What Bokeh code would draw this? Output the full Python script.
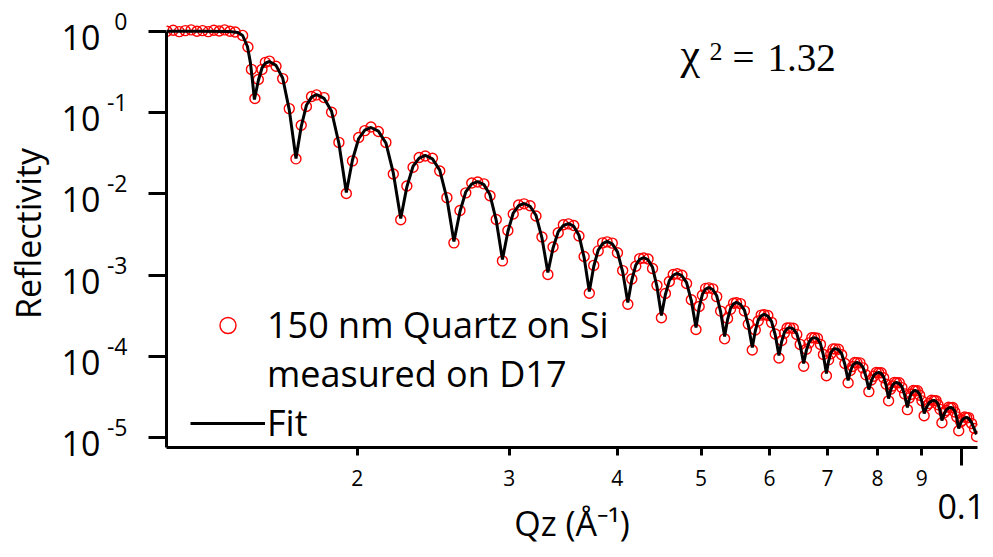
from bokeh.plotting import figure
from bokeh.models import (Range1d, FixedTicker, LogAxis, LogScale, Label, Legend,
                          LegendItem, ColumnDataSource)
from bokeh.embed import file_html
from bokeh.resources import INLINE

# ---------------- data ----------------
# measured reflectivity, plateau below the critical edge
q_plateau_meas = [0.01205, 0.01225, 0.01245, 0.01265, 0.01285, 0.01305, 0.01325,
                  0.01345, 0.01365, 0.01385, 0.01405, 0.01425, 0.01445]
r_plateau_meas = [1.00, 1.03, 0.99, 1.02, 1.04, 1.00, 1.02, 0.99, 1.03, 1.01, 1.04, 1.00, 0.98]
q_edge_meas = [0.01474, 0.01495, 0.01509, 0.01523]
r_edge_meas = [0.89, 0.64, 0.34, 0.149]

# fit, plateau + critical edge
q_plateau_fit = [0.01204, 0.01316, 0.01424]
r_plateau_fit = [1.0, 1.0, 0.995]
q_edge_fit = [0.01455, 0.01474, 0.01493, 0.01505, 0.01513, 0.01521]
r_edge_fit = [0.967, 0.888, 0.650, 0.409, 0.248, 0.145]

# Kiessig fringes (shared Q grid for fit and measurement)
q_fringe = [
    0.01537, 0.01552, 0.01566, 0.01583, 0.01611, 0.01640, 0.01669, 0.01699,
    0.01723, 0.01747, 0.01771, 0.01795, 0.01831, 0.01868, 0.01905, 0.01943,
    0.01975, 0.02008, 0.02041, 0.02075, 0.02116, 0.02159, 0.02202, 0.02246,
    0.02283, 0.02321, 0.02359, 0.02398, 0.02444, 0.02492, 0.02540, 0.02588,
    0.02630, 0.02671, 0.02714, 0.02757, 0.02803, 0.02849, 0.02897, 0.02945,
    0.02988, 0.03031, 0.03075, 0.03120, 0.03170, 0.03220, 0.03272, 0.03324,
    0.03370, 0.03417, 0.03464, 0.03512, 0.03561, 0.03611, 0.03661, 0.03712,
    0.03756, 0.03801, 0.03846, 0.03892, 0.03946, 0.04001, 0.04057, 0.04113,
    0.04157, 0.04201, 0.04245, 0.04290, 0.04341, 0.04393, 0.04445, 0.04498,
    0.04546, 0.04594, 0.04642, 0.04692, 0.04751, 0.04810, 0.04871, 0.04932,
    0.04974, 0.05017, 0.05060, 0.05104, 0.05158, 0.05212, 0.05267, 0.05323,
    0.05365, 0.05408, 0.05451, 0.05494, 0.05552, 0.05611, 0.05670, 0.05730,
    0.05776, 0.05821, 0.05868, 0.05914, 0.05973, 0.06032, 0.06092, 0.06152,
    0.06197, 0.06242, 0.06287, 0.06333, 0.06392, 0.06451, 0.06510, 0.06571,
    0.06618, 0.06666, 0.06715, 0.06764, 0.06817, 0.06871, 0.06926, 0.06981,
    0.07022, 0.07064, 0.07106, 0.07148, 0.07209, 0.07271, 0.07334, 0.07397,
    0.07441, 0.07485, 0.07529, 0.07574, 0.07634, 0.07694, 0.07755, 0.07817,
    0.07868, 0.07920, 0.07973, 0.08025, 0.08078, 0.08132, 0.08185, 0.08239,
    0.08283, 0.08326, 0.08370, 0.08415, 0.08476, 0.08537, 0.08599, 0.08662,
    0.08707, 0.08753, 0.08800, 0.08846, 0.08899, 0.08951, 0.09005, 0.09058,
    0.09118, 0.09178, 0.09239, 0.09300, 0.09349, 0.09398, 0.09448, 0.09497,
    0.09554, 0.09611, 0.09668, 0.09725, 0.09776, 0.09828, 0.09880, 0.09932,
    0.09984, 0.10037, 0.10090, 0.10143, 0.10197, 0.10278, 0.10359, 0.10414,
]
r_fringe_fit = [
    0.248, 0.354, 0.407, 0.425, 0.381, 0.267, 0.108, 0.0273,
    0.0675, 0.123, 0.155, 0.167, 0.150, 0.104, 0.0417, 0.0104,
    0.0261, 0.0480, 0.0609, 0.0656, 0.0592, 0.0423, 0.0181, 0.00498,
    0.0122, 0.0219, 0.0276, 0.0297, 0.0270, 0.0196, 0.00878, 0.00260,
    0.00608, 0.0106, 0.0133, 0.0142, 0.0130, 0.00975, 0.00471, 0.00156,
    0.00345, 0.00582, 0.00716, 0.00762, 0.00704, 0.00547, 0.00287, 0.00108,
    0.00216, 0.00342, 0.00409, 0.00432, 0.00401, 0.00311, 0.00165, 0.000630,
    0.00128, 0.00204, 0.00245, 0.00260, 0.00243, 0.00194, 0.00110, 0.000462,
    0.000873, 0.00133, 0.00157, 0.00165, 0.00155, 0.00125, 0.000726, 0.000319,
    0.000579, 0.000859, 0.00100, 0.00105, 0.000986, 0.000809, 0.000488, 0.000227,
    0.000401, 0.000582, 0.000675, 0.000706, 0.000667, 0.000558, 0.000353, 0.000176,
    0.000285, 0.000392, 0.000444, 0.000462, 0.000439, 0.000372, 0.000244, 0.000129,
    0.000206, 0.000280, 0.000317, 0.000329, 0.000314, 0.000269, 0.000184, 0.000103,
    0.000153, 0.000198, 0.000220, 0.000227, 0.000219, 0.000191, 0.000137, 0.0000820,
    0.000119, 0.000151, 0.000167, 0.000171, 0.000165, 0.000144, 0.000103, 0.0000618,
    0.0000880, 0.000111, 0.000122, 0.000125, 0.000121, 0.000108, 0.0000797, 0.0000507,
    0.0000654, 0.0000773, 0.0000827, 0.0000844, 0.0000818, 0.0000741, 0.0000576, 0.0000393,
    0.0000499, 0.0000585, 0.0000623, 0.0000636, 0.0000618, 0.0000561, 0.0000440, 0.0000304,
    0.0000382, 0.0000444, 0.0000471, 0.0000479, 0.0000466, 0.0000424, 0.0000336, 0.0000236,
    0.0000300, 0.0000352, 0.0000374, 0.0000382, 0.0000372, 0.0000342, 0.0000276, 0.0000199,
    0.0000239, 0.0000270, 0.0000284, 0.0000288, 0.0000281, 0.0000261, 0.0000217, 0.0000163,
    0.0000196, 0.0000222, 0.0000233, 0.0000236, 0.0000231, 0.0000213, 0.0000175, 0.0000130,
    0.0000152, 0.0000168, 0.0000176, 0.0000178, 0.0000173, 0.0000154, 0.0000126, 0.0000110,
]
r_fringe_meas = [
    0.255, 0.340, 0.415, 0.430, 0.372, 0.262, 0.112, 0.0270,
    0.0700, 0.119, 0.158, 0.165, 0.153, 0.101, 0.0430, 0.0101,
    0.0255, 0.0495, 0.0600, 0.0665, 0.0585, 0.0430, 0.0176, 0.00480,
    0.0125, 0.0213, 0.0281, 0.0293, 0.0275, 0.0191, 0.00900, 0.00250,
    0.00625, 0.0103, 0.0136, 0.0140, 0.0133, 0.00950, 0.00485, 0.00150,
    0.00355, 0.00565, 0.00730, 0.00755, 0.00715, 0.00535, 0.00295, 0.00102,
    0.00222, 0.00333, 0.00418, 0.00428, 0.00408, 0.00303, 0.00170, 0.000600,
    0.00132, 0.00199, 0.00250, 0.00257, 0.00248, 0.00189, 0.00114, 0.000440,
    0.000900, 0.00129, 0.00160, 0.00163, 0.00158, 0.00121, 0.000750, 0.000300,
    0.000595, 0.000835, 0.00102, 0.00104, 0.00100, 0.000790, 0.000500, 0.000215,
    0.000412, 0.000566, 0.000688, 0.000699, 0.000680, 0.000545, 0.000362, 0.000165,
    0.000293, 0.000382, 0.000452, 0.000458, 0.000447, 0.000364, 0.000250, 0.000120,
    0.000212, 0.000273, 0.000323, 0.000326, 0.000320, 0.000263, 0.000189, 0.0000960,
    0.000157, 0.000193, 0.000224, 0.000225, 0.000223, 0.000187, 0.000141, 0.0000760,
    0.000123, 0.000147, 0.000170, 0.000170, 0.000168, 0.000141, 0.000106, 0.0000580,
    0.0000910, 0.000108, 0.000124, 0.000124, 0.000123, 0.000105, 0.0000820, 0.0000475,
    0.0000675, 0.0000755, 0.0000845, 0.0000840, 0.0000835, 0.0000725, 0.0000595, 0.0000370,
    0.0000515, 0.0000572, 0.0000636, 0.0000632, 0.0000631, 0.0000548, 0.0000455, 0.0000285,
    0.0000395, 0.0000434, 0.0000481, 0.0000476, 0.0000476, 0.0000414, 0.0000347, 0.0000222,
    0.0000310, 0.0000344, 0.0000382, 0.0000380, 0.0000380, 0.0000334, 0.0000285, 0.0000187,
    0.0000247, 0.0000264, 0.0000290, 0.0000287, 0.0000287, 0.0000255, 0.0000224, 0.0000153,
    0.0000203, 0.0000217, 0.0000238, 0.0000235, 0.0000236, 0.0000208, 0.0000181, 0.0000122,
    0.0000157, 0.0000164, 0.0000180, 0.0000177, 0.0000177, 0.0000150, 0.0000130, 0.0000104,
]

# axes
x_tick_values = [0.02, 0.03, 0.04, 0.05, 0.06, 0.07, 0.08, 0.09]
x_tick_labels = ["2", "3", "4", "5", "6", "7", "8", "9"]
x_decade_tick = [0.1]
x_decade_label = ["0.1"]
y_tick_values = [1.0, 1e-1, 1e-2, 1e-3, 1e-4, 1e-5]
y_tick_base = ["10"] * 6
y_tick_exponents = ["0", "-1", "-2", "-3", "-4", "-5"]
x_min, x_max = 0.012034, 0.10441
y_min, y_max = 7.6e-6, 1.397

x_title = "Qz (Å⁻¹)"
y_title = "Reflectivity"
legend_labels = ["150 nm Quartz on Si", "measured on D17", "Fit"]
chi_value = "1.32"

# ---------------- figure ----------------
SANS = "Open Sans"
SERIF = "Liberation Serif"
PX_PER_DECADE = 81.3
p = figure(width=985, height=549, x_axis_type="log", y_axis_type="log",
           x_range=Range1d(x_min, x_max), y_range=Range1d(y_min, y_max),
           output_backend="svg", toolbar_location=None,
           min_border_left=166, min_border_right=8, min_border_top=19, min_border_bottom=102)
p.outline_line_color = None
p.xgrid.visible = False
p.ygrid.visible = False
p.background_fill_color = "white"
p.border_fill_color = "white"

meas_src = ColumnDataSource(dict(q=q_plateau_meas + q_edge_meas + q_fringe,
                                 r=r_plateau_meas + r_edge_meas + r_fringe_meas))
fit_src = ColumnDataSource(dict(q=q_plateau_fit + q_edge_fit + q_fringe,
                                r=r_plateau_fit + r_edge_fit + r_fringe_fit))

r_meas = p.scatter("q", "r", source=meas_src, marker="circle", size=10,
                   fill_color=None, line_color="#ff0000", line_width=1.4)
r_fit = p.line("q", "r", source=fit_src, line_color="black", line_width=3)
r_dummy = p.scatter(x=[], y=[], marker="circle", size=1, fill_alpha=0, line_alpha=0)

# main y axis: line + ticks only
yax = p.yaxis[0]
yax.ticker = FixedTicker(ticks=y_tick_values, minor_ticks=[])
yax.major_label_overrides = {v: "" for v in y_tick_values}
yax.major_label_standoff = 0
yax.bounds = (y_min, y_tick_values[0])
yax.major_tick_out = 18
yax.major_tick_in = 0
yax.major_tick_line_width = 3
yax.minor_tick_line_color = None
yax.axis_line_width = 3
yax.axis_line_color = "black"

# label axes: exponent (shifted up) and base "10" (shifted down)
up = 10 ** (-10 / PX_PER_DECADE)
down = 10 ** (6 / PX_PER_DECADE)
p.extra_y_ranges = {"exp": Range1d(y_min * up, y_max * up),
                    "ten": Range1d(y_min * down, y_max * down)}
p.extra_y_scales = {"exp": LogScale(), "ten": LogScale()}

def label_axis(range_name, labels, size, standoff):
    return LogAxis(y_range_name=range_name,
                   ticker=FixedTicker(ticks=y_tick_values, minor_ticks=[]),
                   major_label_overrides=dict(zip(y_tick_values, labels)),
                   axis_line_color=None, major_tick_line_color=None, minor_tick_line_color=None,
                   major_tick_out=0, major_tick_in=0, minor_tick_out=0, minor_tick_in=0,
                   major_label_standoff=standoff, major_label_text_font=SANS,
                   major_label_text_font_size=size, major_label_text_color="black")

exp_axis = label_axis("exp", y_tick_exponents, "23px", 21)
ten_axis = label_axis("ten", y_tick_base, "34px", 3)
ten_axis.axis_label = y_title
ten_axis.axis_label_text_font = SANS
ten_axis.axis_label_text_font_size = "34px"
ten_axis.axis_label_text_font_style = "normal"
ten_axis.axis_label_text_color = "black"
ten_axis.axis_label_standoff = 8
p.add_layout(exp_axis, "left")
p.add_layout(ten_axis, "left")

# x axis
xax = p.xaxis[0]
xax.ticker = FixedTicker(ticks=x_tick_values, minor_ticks=x_decade_tick)
xax.major_label_overrides = dict(zip(x_tick_values, x_tick_labels))
xax.major_label_text_font = SANS
xax.major_label_text_font_size = "21px"
xax.major_label_text_color = "black"
xax.major_label_standoff = 4
xax.major_tick_out = 8
xax.major_tick_in = 0
xax.major_tick_line_width = 3
xax.minor_tick_out = 18
xax.minor_tick_in = 0
xax.minor_tick_line_width = 3
xax.minor_tick_line_color = "black"
xax.axis_line_width = 3
xax.axis_line_color = "black"

xax2 = LogAxis(ticker=FixedTicker(ticks=x_decade_tick, minor_ticks=[]),
               major_label_overrides=dict(zip(x_decade_tick, x_decade_label)),
               axis_line_color=None, major_tick_line_color=None, minor_tick_line_color=None,
               major_label_text_font=SANS, major_label_text_font_size="34px",
               major_label_text_color="black", major_label_standoff=5,
               major_tick_out=0, major_tick_in=0, minor_tick_out=0, minor_tick_in=0,
               axis_label=x_title, axis_label_text_font=SANS, axis_label_text_font_size="34px",
               axis_label_text_font_style="normal", axis_label_text_color="black",
               axis_label_standoff=-22)
p.add_layout(xax2, "below")

# chi-square annotation (inside the frame)
chi_parts = [("χ", 514, 393, "44px"), ("2", 543, 396, "26px"),
             ("=", 566, 390, "39px"), (chi_value, 601, 390, "39px")]
for t, xx, yy, fs in chi_parts:
    p.add_layout(Label(x=xx, y=yy, x_units="screen", y_units="screen", text=t,
                       text_align="left", text_baseline="alphabetic",
                       text_font=SERIF, text_font_size=fs, text_color="black"))

legend = Legend(items=[LegendItem(label=legend_labels[0], renderers=[r_meas]),
                       LegendItem(label=legend_labels[1], renderers=[r_dummy]),
                       LegendItem(label=legend_labels[2], renderers=[r_fit])],
                location=(24, 0), padding=0, margin=0, spacing=-2,
                glyph_width=75, glyph_height=40, label_height=40, label_standoff=2,
                label_text_font=SANS, label_text_font_size="36px", label_text_color="black",
                border_line_color=None, background_fill_alpha=0)
p.add_layout(legend)

open("out.html", "w").write(file_html(p, INLINE))
